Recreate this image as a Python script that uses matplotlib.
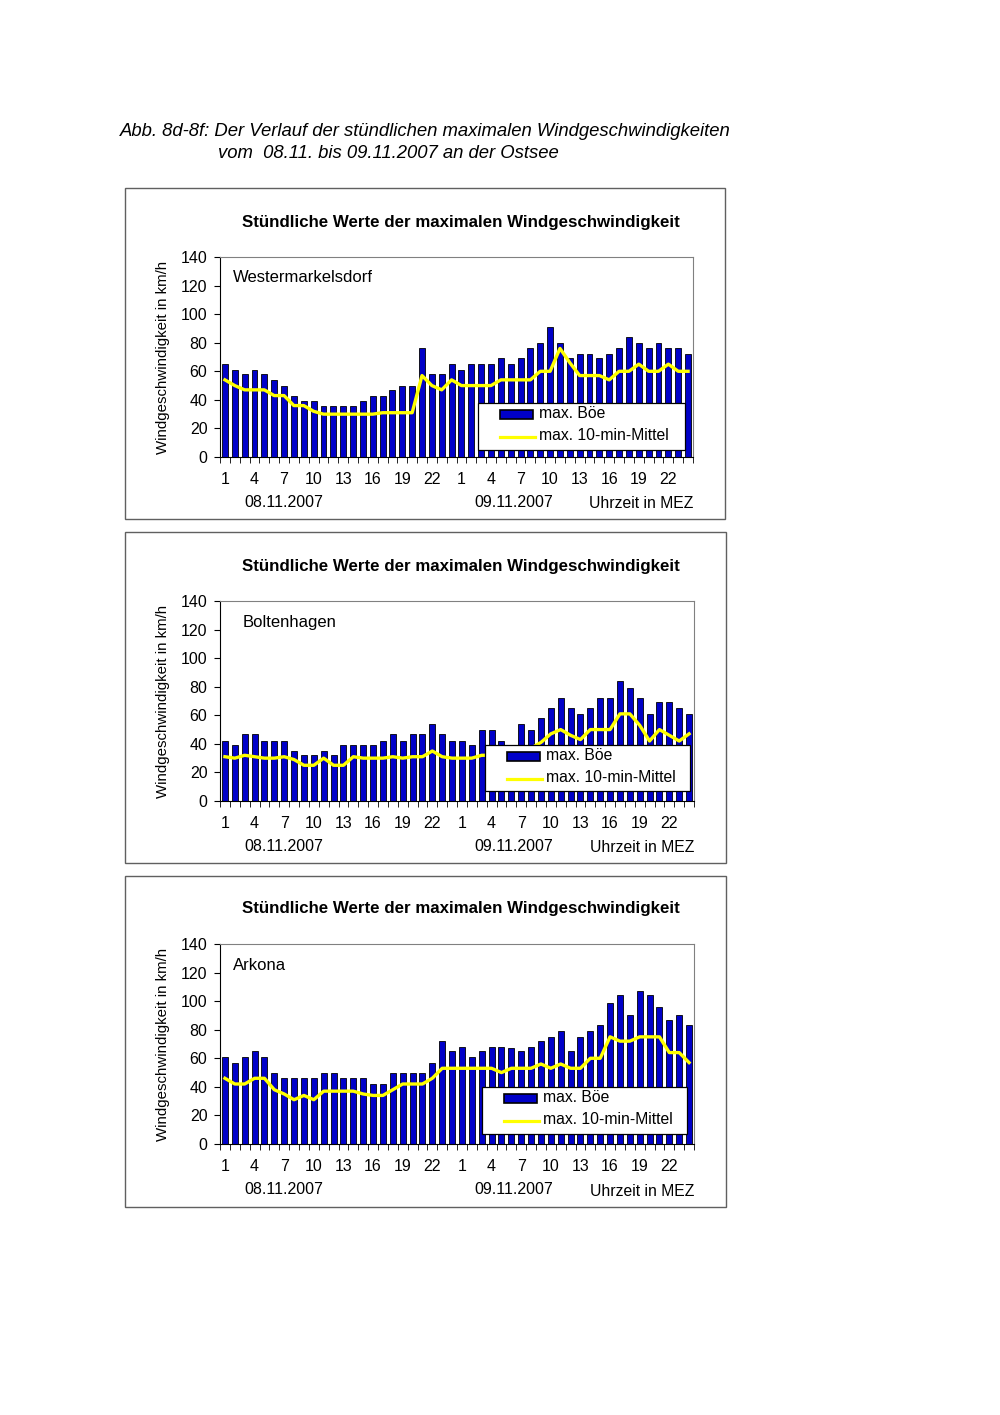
"""
Stündliche maximale Windgeschwindigkeiten 08.11.-09.11.2007 an der Ostsee
Three stations, bars = max. Böe, line = max. 10-min-Mittel
"""
import numpy as np
import matplotlib.pyplot as plt
from matplotlib.patches import Rectangle
from matplotlib.lines import Line2D

plt.rcParams['font.family'] = ['Liberation Sans', 'DejaVu Sans']

# hours 1..24 of 08.11. followed by hours 1..24 of 09.11.
hours = list(range(1, 25)) * 2
tick_hours = [1, 4, 7, 10, 13, 16, 19, 22]

stations = ['Westermarkelsdorf', 'Boltenhagen', 'Arkona']

# max. Böe (km/h)
boe_wester = [65, 61, 58, 61, 58, 54, 50, 43, 39, 39, 36, 36, 36, 36, 39, 43, 43, 47, 50, 50, 76, 58, 58, 65,
              61, 65, 65, 65, 69, 65, 69, 76, 80, 91, 80, 69, 72, 72, 69, 72, 76, 84, 80, 76, 80, 76, 76, 72]
boe_bolten = [42, 39, 47, 47, 42, 42, 42, 35, 32, 32, 35, 32, 39, 39, 39, 39, 42, 47, 42, 47, 47, 54, 47, 42,
              42, 39, 50, 50, 42, 39, 54, 50, 58, 65, 72, 65, 61, 65, 72, 72, 84, 79, 72, 61, 69, 69, 65, 61]
boe_arkona = [61, 57, 61, 65, 61, 50, 46, 46, 46, 46, 50, 50, 46, 46, 46, 42, 42, 50, 50, 50, 50, 57, 72, 65,
              68, 61, 65, 68, 68, 67, 65, 68, 72, 75, 79, 65, 75, 79, 83, 99, 104, 90, 107, 104, 96, 87, 90, 83]

# max. 10-min-Mittel (km/h)
mit_wester = [54, 50, 47, 47, 47, 43, 43, 36, 36, 32, 30, 30, 30, 30, 30, 30, 31, 31, 31, 31, 57, 50, 47, 54,
              50, 50, 50, 50, 54, 54, 54, 54, 60, 60, 76, 66, 57, 57, 57, 54, 60, 60, 65, 60, 60, 65, 60, 60]
mit_bolten = [31, 30, 32, 31, 30, 30, 31, 29, 25, 25, 30, 25, 25, 31, 30, 30, 30, 31, 30, 31, 31, 35, 31, 30,
              30, 30, 32, 32, 33, 33, 35, 37, 41, 47, 50, 46, 43, 50, 50, 50, 61, 61, 53, 42, 50, 46, 42, 47]
mit_arkona = [46, 42, 42, 46, 46, 38, 35, 31, 34, 31, 37, 37, 37, 37, 35, 34, 34, 38, 42, 42, 42, 46, 53, 53,
              53, 53, 53, 53, 50, 53, 53, 53, 56, 53, 56, 53, 53, 60, 60, 75, 72, 72, 75, 75, 75, 64, 64, 57]

boe_all = [boe_wester, boe_bolten, boe_arkona]
mit_all = [mit_wester, mit_bolten, mit_arkona]

W, H = 1000, 1415
BAR_COLOR = '#0000c8'
LINE_COLOR = '#ffff00'

# pixel layout of each panel: box, plot area, legend
panels = [
    dict(box=(125, 188, 725, 519), plot=(220, 257, 693, 457), legend=(478, 403, 685, 450), lbl_x=233),
    dict(box=(125, 532, 726, 863), plot=(220, 601, 694, 801), legend=(485, 745, 690, 791), lbl_x=243),
    dict(box=(125, 876, 726, 1207), plot=(220, 944, 694, 1144), legend=(482, 1087, 687, 1134), lbl_x=233),
]


def fx(px):
    return px / W


def fy(py):
    return 1 - py / H


def draw_legend(fig, box):
    """Excel-style legend box drawn in figure pixels"""
    lx0, ly0, lx1, ly1 = box
    fig.patches.append(Rectangle((fx(lx0), fy(ly1)), fx(lx1 - lx0), (ly1 - ly0) / H,
                                 transform=fig.transFigure, facecolor='white',
                                 edgecolor='black', linewidth=0.9, zorder=10))
    fig.patches.append(Rectangle((fx(lx0 + 22), fy(ly0 + 16)), fx(33), 9 / H,
                                 transform=fig.transFigure, facecolor=BAR_COLOR,
                                 edgecolor='black', linewidth=1.2, zorder=11))
    fig.text(fx(lx0 + 61), fy(ly0 + 11), 'max. Böe', fontsize=11.3,
             ha='left', va='center', zorder=12)
    fig.lines.append(Line2D([fx(lx0 + 22), fx(lx0 + 57)], [fy(ly0 + 34), fy(ly0 + 34)],
                            transform=fig.transFigure, color=LINE_COLOR, linewidth=2.3, zorder=11))
    fig.text(fx(lx0 + 61), fy(ly0 + 33), 'max. 10-min-Mittel', fontsize=11.3,
             ha='left', va='center', zorder=12)


def draw_panel(fig, p, name, boe, mit):
    x0, y0, x1, y1 = p['box']
    fig.patches.append(Rectangle((fx(x0), fy(y1)), fx(x1 - x0), (y1 - y0) / H,
                                 transform=fig.transFigure, fill=False,
                                 edgecolor='#606060', linewidth=1.0))

    px0, py0, px1, py1 = p['plot']
    ax = fig.add_axes([fx(px0), fy(py1), fx(px1 - px0), (py1 - py0) / H])
    n = len(boe)
    x = np.arange(n)

    ax.bar(x, boe, width=0.6, color=BAR_COLOR, edgecolor='black', linewidth=0.6, zorder=2)
    ax.plot(x, mit, color=LINE_COLOR, linewidth=2.4, zorder=3)

    ax.set_xlim(-0.5, n - 0.5)
    ax.set_ylim(0, 140)
    ax.set_yticks(range(0, 141, 20))
    ax.tick_params(axis='y', labelsize=11.5, length=4, direction='out', pad=5)

    # category ticks between bars, labels every third hour
    ax.set_xticks(np.arange(n + 1) - 0.5, minor=True)
    major = [i for i, h in enumerate(hours) if h in tick_hours]
    ax.set_xticks(major)
    ax.set_xticklabels([str(hours[i]) for i in major])
    ax.tick_params(axis='x', which='major', length=0, labelsize=11.5, pad=11)
    ax.tick_params(axis='x', which='minor', length=4, direction='out')

    for side in ['top', 'right']:
        ax.spines[side].set_color('#808080')
    for side in ['left', 'bottom']:
        ax.spines[side].set_color('black')

    ax.set_ylabel('Windgeschwindigkeit in km/h', fontsize=10.8, labelpad=8)
    ax.text((p['lbl_x'] - px0) / (px1 - px0), 0.895, name, transform=ax.transAxes,
            fontsize=12, va='center', ha='left')

    # panel title
    fig.text(fx(461), fy(py0 - 35), 'Stündliche Werte der maximalen Windgeschwindigkeit',
             fontsize=12.2, fontweight='bold', ha='center', va='center')

    # date labels and axis title
    fig.text(fx(284), fy(py1 + 46), '08.11.2007', fontsize=11.5, ha='center', va='center')
    fig.text(fx(514), fy(py1 + 46), '09.11.2007', fontsize=11.5, ha='center', va='center')
    fig.text(fx(px1), fy(py1 + 47), 'Uhrzeit in MEZ', fontsize=11.3, ha='right', va='center')

    draw_legend(fig, p['legend'])
    return ax


def main():
    fig = plt.figure(figsize=(W / 100, H / 100), dpi=100)

    fig.text(fx(120), fy(131), 'Abb. 8d-8f: Der Verlauf der stündlichen maximalen Windgeschwindigkeiten',
             fontsize=13.3, style='italic', ha='left', va='center')
    fig.text(fx(218), fy(153), 'vom  08.11. bis 09.11.2007 an der Ostsee',
             fontsize=13.3, style='italic', ha='left', va='center')

    for p, name, boe, mit in zip(panels, stations, boe_all, mit_all):
        draw_panel(fig, p, name, boe, mit)

    fig.savefig('out.png', dpi=100)
    plt.close(fig)


if __name__ == "__main__":
    main()
